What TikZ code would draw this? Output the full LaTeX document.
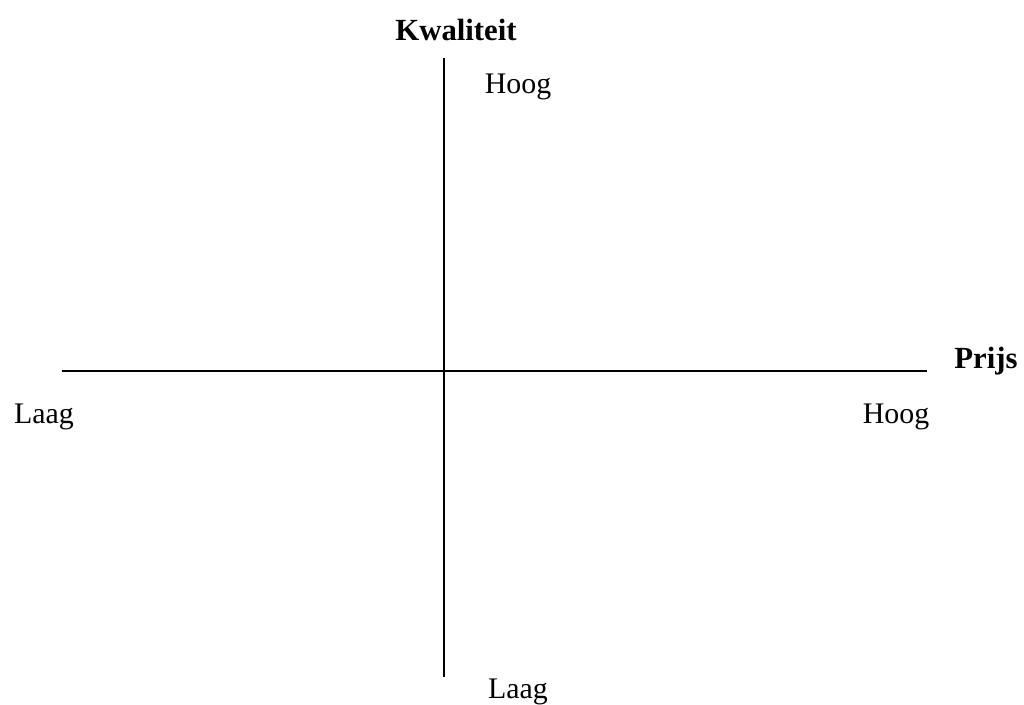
\documentclass[tikz,border=0pt]{standalone}
\usepackage{fontspec}
\setmainfont{Liberation Serif}
\begin{document}
\begin{tikzpicture}[x=0.02cm,y=-0.02cm,
  axis/.style={line width=1.2pt,black},
  lbl/.style={font=\fontsize{17}{20}\selectfont,inner sep=0pt},
  ttl/.style={font=\fontsize{17.5}{20}\selectfont\bfseries,inner sep=0pt}]
\useasboundingbox (0,0) rectangle (1024,705);
\coordinate (vtop) at (444,58);
\coordinate (vbot) at (444,677);
\coordinate (hl) at (62,371);
\coordinate (hr) at (927,371);
\draw[axis] (vtop) -- (vbot);
\draw[axis] (hl) -- (hr);
\node[ttl] (kw) at (456,30) {Kwaliteit};
\node[ttl] (pr) at (986,361) {Prijs};
\node[lbl] (hoogv) at (518,87) {Hoog};
\node[lbl] (laagv) at (518,692) {Laag};
\node[lbl] (laagh) at (44,417) {Laag};
\node[lbl] (hoogh) at (896,417) {Hoog};
\end{tikzpicture}
\end{document}
